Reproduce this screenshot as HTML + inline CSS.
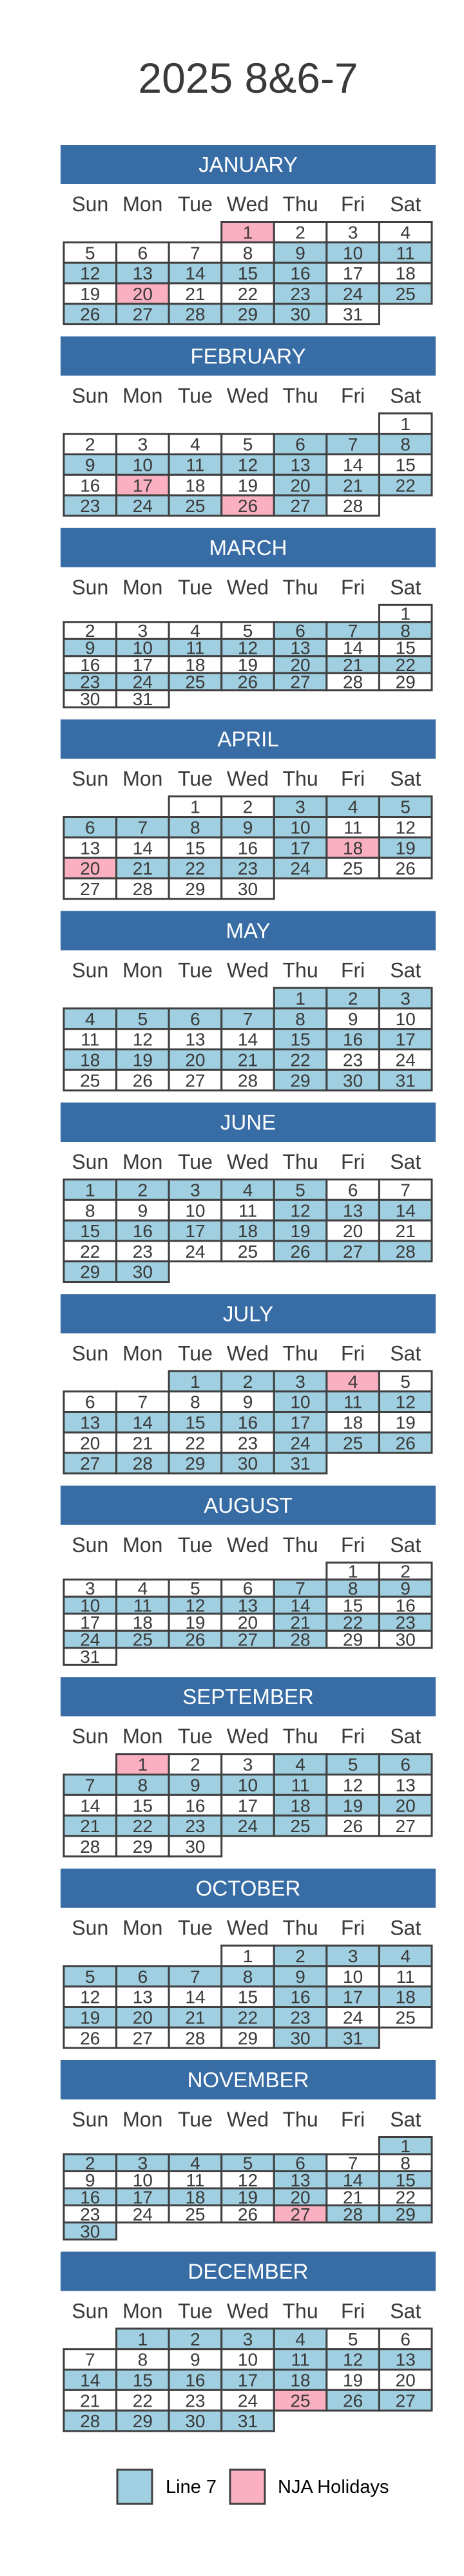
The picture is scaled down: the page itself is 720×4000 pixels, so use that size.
<!DOCTYPE html>
<html><head><meta charset="utf-8"><title>2025 8&amp;6-7</title>
<style>
html,body{margin:0;padding:0;background:#fff;}
svg{display:block;font-family:"Liberation Sans",Arial,sans-serif;}
</style></head>
<body>
<svg id="cal" width="720" height="4000" viewBox="0 0 720 4000" xmlns="http://www.w3.org/2000/svg">
<rect x="0" y="0" width="720" height="4000" fill="#ffffff"/>
<text x="385" y="144" text-anchor="middle" font-size="66" fill="#3a3a3a">2025 8&amp;6-7</text>
<g id="months"></g>
<g>
<rect x="182" y="3835" width="54" height="53" fill="#9fcfe0" stroke="#404040" stroke-width="3"/>
<text x="257" y="3871" font-size="29" fill="#000">Line 7</text>
<rect x="357" y="3835" width="54" height="53" fill="#fbb0c1" stroke="#404040" stroke-width="3"/>
<text x="431" y="3871" font-size="29" fill="#000">NJA Holidays</text>
</g>
</svg>
<script>
const monthNames = ["JANUARY","FEBRUARY","MARCH","APRIL","MAY","JUNE","JULY","AUGUST","SEPTEMBER","OCTOBER","NOVEMBER","DECEMBER"];
const dayNames = ["Sun","Mon","Tue","Wed","Thu","Fri","Sat"];
const year = 2025;
const line7Days = [
 [9,10,11,12,13,14,15,16,23,24,25,26,27,28,29,30],
 [6,7,8,9,10,11,12,13,20,21,22,23,24,25,27],
 [6,7,8,9,10,11,12,13,20,21,22,23,24,25,26,27],
 [3,4,5,6,7,8,9,10,17,19,21,22,23,24],
 [1,2,3,4,5,6,7,8,15,16,17,18,19,20,21,22,29,30,31],
 [1,2,3,4,5,12,13,14,15,16,17,18,19,26,27,28,29,30],
 [1,2,3,10,11,12,13,14,15,16,17,24,25,26,27,28,29,30,31],
 [7,8,9,10,11,12,13,14,21,22,23,24,25,26,27,28],
 [4,5,6,7,8,9,10,11,18,19,20,21,22,23,24,25],
 [2,3,4,5,6,7,8,9,16,17,18,19,20,21,22,23,30,31],
 [1,2,3,4,5,6,13,14,15,16,17,18,19,20,28,29,30],
 [1,2,3,4,11,12,13,14,15,16,17,18,26,27,28,29,30,31]
];
const holidayDays = [
 [1,20],[17,26],[],[18,20],[],[],[4],[],[1],[],[27],[25]
];

const NS = "http://www.w3.org/2000/svg";
const root = document.getElementById("months");
const PITCH = 297.4, TOP0 = 225, BX = 94, BW = 582, BH = 61;
const GX = 99, CW = 81.57, GRID_OFF = 119.5, GRID_H = 159;
function mk(tag, attrs){ const e = document.createElementNS(NS, tag); for (const k in attrs) e.setAttribute(k, attrs[k]); return e; }

monthNames.forEach((name, m) => {
  const top = TOP0 + m * PITCH;
  const g = mk("g", {});
  
  
  const banner = mk("rect", {x: BX, y: top, width: BW, height: BH, fill: "#386ca5"});
  
  
  g.appendChild(banner);
  const title = mk("text", {x: BX + BW/2, y: top + 42, "text-anchor": "middle", "font-size": 33, fill: "#ffffff"});
  title.textContent = name;
  
  
  g.appendChild(title);
  dayNames.forEach((d, c) => {
    const t = mk("text", {x: GX + CW*c + CW/2, y: top + 103, "text-anchor": "middle", "font-size": 32, fill: "#3a3a3a"});
    t.textContent = d;
    
    
    g.appendChild(t);
  });
  const first = new Date(year, m, 1).getDay();
  const ndays = new Date(year, m + 1, 0).getDate();
  const nrows = Math.ceil((first + ndays) / 7);
  const rh = GRID_H / nrows;
  const gy = top + GRID_OFF;
  const fs = 28;
  for (let d = 1; d <= ndays; d++) {
    const idx = first + d - 1, r = Math.floor(idx / 7), c = idx % 7;
    let fill = "#ffffff";
    if (line7Days[m].includes(d)) fill = "#9fcfe0";
    if (holidayDays[m].includes(d)) fill = "#fbb0c1";
    const cell = mk("rect", {x: GX + c*CW, y: gy + r*rh, width: CW, height: rh, fill: fill, stroke: "#404040", "stroke-width": 3});
    
    
    g.appendChild(cell);
    const t = mk("text", {x: GX + c*CW + CW/2, y: gy + r*rh + rh/2 + fs*0.36, "text-anchor": "middle", "font-size": fs, fill: "#3a3a3a"});
    t.textContent = d;
    
    
    g.appendChild(t);
  }
  root.appendChild(g);
});
</script>
</body></html>
